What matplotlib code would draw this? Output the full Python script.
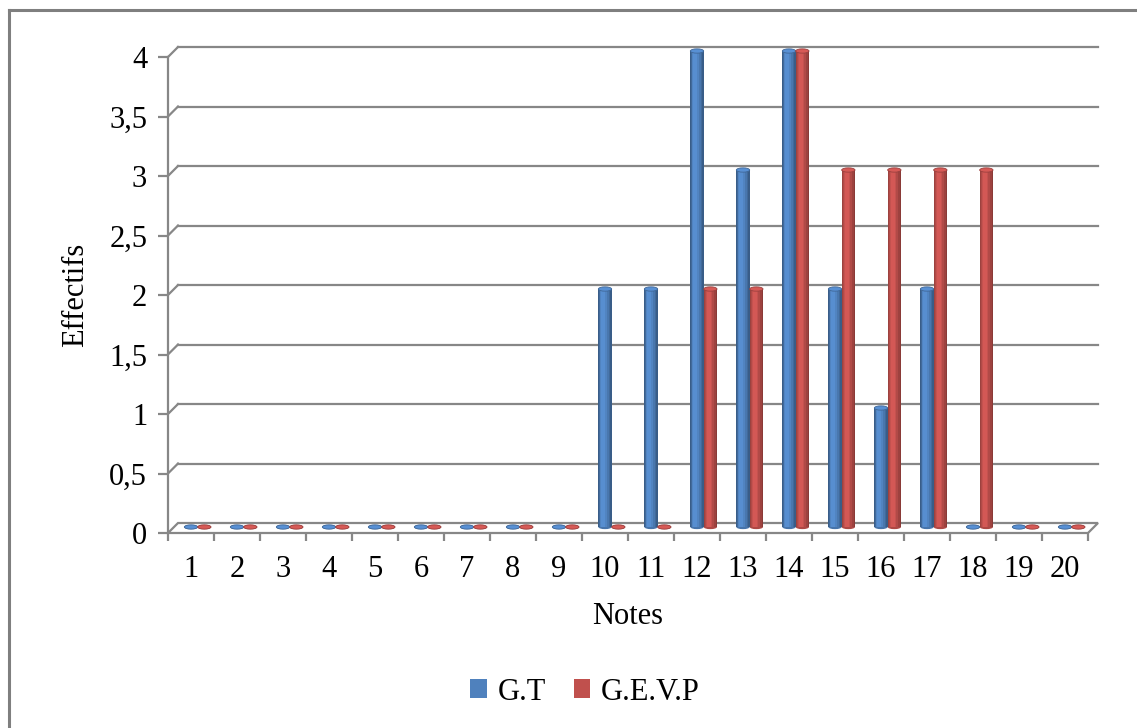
import numpy as np
import matplotlib
matplotlib.use("Agg")
import matplotlib.pyplot as plt
from matplotlib.patches import Ellipse, Polygon, Patch
from matplotlib.lines import Line2D
from matplotlib.transforms import offset_copy, IdentityTransform

# data
notes = list(range(1, 21))
gt = [0, 0, 0, 0, 0, 0, 0, 0, 0, 2, 2, 4, 3, 4, 2, 1, 2, 0, 0, 0]
gevp = [0, 0, 0, 0, 0, 0, 0, 0, 0, 0, 0, 2, 2, 4, 3, 3, 3, 3, 0, 0]
y_ticks = [0, 0.5, 1, 1.5, 2, 2.5, 3, 3.5, 4]
y_labels = ["0", "0,5", "1", "1,5", "2", "2,5", "3", "3,5", "4"]

blue = np.array([0x4F, 0x81, 0xBD]) / 255
red = np.array([0xC0, 0x50, 0x4D]) / 255
gray = "#878787"
fs = 22
plt.rcParams['font.family'] = ['Liberation Serif', 'DejaVu Serif']

W, H = 1137, 728
fig = plt.figure(figsize=(W / 100, H / 100), dpi=100)
ax = fig.add_axes([168 / W, 1 - 533 / H, (1088 - 168) / W, (533 - 57) / H])
ax.set_xlim(0.5, 20.5)
ax.set_ylim(0, 4)
fig.canvas.draw()

# outer chart border (left and top only visible)
fig.add_artist(Line2D([9 / W, 9 / W], [0, 1 - 10 / H], color="#7f7f7f", lw=2.2, transform=fig.transFigure))
fig.add_artist(Line2D([9 / W, 1], [1 - 10 / H, 1 - 10 / H], color="#7f7f7f", lw=2.2, transform=fig.transFigure))

# 3D-like gridlines with depth offset
depth = 10
ident = IdentityTransform()
for yv in y_ticks:
    p0 = ax.transData.transform((0.5, yv))
    p1 = ax.transData.transform((20.5, yv))
    if yv == 0:
        floor = Polygon([p0, p1, p1 + [depth, depth], p0 + [depth, depth]], closed=True,
                        facecolor="white", edgecolor=gray, lw=1.6, transform=ident, zorder=1,
                        clip_on=False)
        ax.add_artist(floor)
    else:
        ax.add_artist(Line2D([p0[0], p0[0] + depth], [p0[1], p0[1] + depth], color=gray, lw=1.6,
                             transform=ident, zorder=1, clip_on=False))
        ax.add_artist(Line2D([p0[0] + depth, p1[0] + depth], [p0[1] + depth, p1[1] + depth],
                             color=gray, lw=1.6, transform=ident, zorder=1, clip_on=False))

# cylinder bars
bw = 0.29
eh = 0.036
tr = offset_copy(ax.transData, fig=fig, x=0, y=6, units='dots')
levels = [(1.0, 0.5, 0.72), (0.85, 0.47, 0.82), (0.68, 0.44, 0.92), (0.5, 0.41, 1.02), (0.3, 0.38, 1.1)]


def draw_cyl(xs, vals, base):
    for frac, cpos, f in levels:
        bars = ax.bar(np.array(xs) - bw / 2 + cpos * bw, vals, width=bw * frac,
                      color=np.clip(base * f, 0, 1), lw=0, zorder=3, clip_on=False)
        for b in bars:
            b.set_transform(tr)
    for x, v in zip(xs, vals):
        ax.add_patch(Ellipse((x, 0), bw, eh, facecolor=np.clip(base * 0.9, 0, 1), lw=0,
                             transform=tr, zorder=2.9, clip_on=False))
        top = Ellipse((x, v), bw, eh, facecolor=np.clip(base * 1.12, 0, 1),
                      edgecolor=base * 0.8, lw=0.6, transform=tr, zorder=4, clip_on=False)
        ax.add_patch(top)


xs = np.array(notes, dtype=float)
draw_cyl(xs, gt, blue)
draw_cyl(xs + bw, gevp, red)

# axes styling
for s in ["top", "right", "bottom"]:
    ax.spines[s].set_visible(False)
ax.spines["left"].set_color(gray)
ax.spines["left"].set_linewidth(1.6)
ax.set_yticks(y_ticks)
ax.set_yticklabels(y_labels, fontsize=fs)
ax.tick_params(axis="y", length=7, width=1.6, color=gray, pad=8)
ax.set_xticks(notes)
ax.set_xticklabels([str(n) for n in notes], fontsize=fs)
ax.set_xticks(np.arange(0.5, 21, 1), minor=True)
ax.tick_params(axis="x", which="major", length=0, pad=16)
ax.tick_params(axis="x", which="minor", length=6, width=1.6, color=gray)
ax.set_facecolor("none")

ax.set_xlabel("Notes", fontsize=fs, labelpad=13)
ax.set_ylabel("Effectifs", fontsize=fs, labelpad=14)

handles = [Patch(facecolor=blue, label="G.T"), Patch(facecolor=red, label="G.E.V.P")]
fig.legend(handles=handles, loc="center", bbox_to_anchor=(585 / W, 1 - 692 / H), ncol=2,
           frameon=False, fontsize=fs, handlelength=0.55, handleheight=0.55, handletextpad=0.35,
           columnspacing=0.9)

fig.savefig("out.png", dpi=100)
